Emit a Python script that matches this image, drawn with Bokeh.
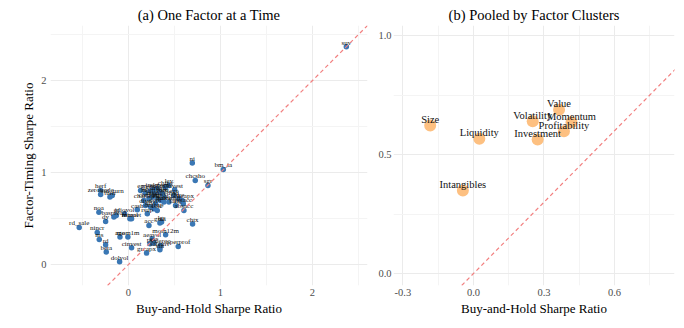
from bokeh.plotting import figure
from bokeh.layouts import row
from bokeh.models import FixedTicker, Slope, ColumnDataSource, PrintfTickFormatter
from bokeh.core.properties import value
from bokeh.embed import file_html
from bokeh.resources import INLINE

FONT = "Liberation Serif"

# ---- Panel (a): one factor at a time ----
a_names = [
    "suv", "ni", "bm_ia", "chcsho", "sgr", "chtx", "rd_sale", "nincr", "ms", "rd",
    "beta", "dolvol", "herf", "zerotrade", "std_turn", "turn", "noa", "dy", "baspread", "ill",
    "idiovol", "retvol", "maxret", "cash", "rsup", "acc", "gma", "lgr", "age", "mom1m",
    "mom12m", "cinvest", "grcapx", "aeavol", "ear", "ps", "saleinv", "salerec", "sin", "operprof",
    "ep", "sp", "cfp", "mom6m", "mom36m", "indmom", "roaq", "roeq", "chinv", "lev",
    "invest", "egr", "hire", "pchcapx", "pctacc", "absacc", "tang", "salecash", "quick", "currat",
    "depr", "mve", "chmom", "chatoia", "orgcap", "roic", "divi", "divo", "securedind", "agr",
]
a_bh = [
    2.37, 0.696, 1.033, 0.728, 0.866, 0.699, -0.533, -0.337, -0.315, -0.246,
    -0.239, -0.094, -0.300, -0.300, -0.174, -0.199, -0.319, -0.246, -0.156, -0.130,
    -0.040, 0.018, 0.036, 0.098, 0.207, 0.225, 0.344, 0.362, -0.090, -0.004,
    0.406, 0.036, 0.199, 0.260, 0.279, 0.236, 0.344, 0.351, 0.344, 0.543,
    0.134, 0.188, 0.243, 0.272, 0.286, 0.315, 0.344, 0.373, 0.406, 0.442,
    0.504, 0.496, 0.551, 0.587, 0.598, 0.605, 0.514, 0.442, 0.388, 0.351,
    0.297, 0.261, 0.225, 0.170, 0.279, 0.315, 0.243, 0.188, 0.388, 0.315,
]
a_ft = [
    2.37, 1.105, 1.036, 0.917, 0.862, 0.442, 0.406, 0.351, 0.275, 0.217,
    0.138, 0.033, 0.808, 0.764, 0.754, 0.736, 0.572, 0.471, 0.518, 0.536,
    0.554, 0.500, 0.500, 0.598, 0.554, 0.428, 0.453, 0.464, 0.301, 0.301,
    0.326, 0.185, 0.127, 0.283, 0.236, 0.228, 0.185, 0.210, 0.163, 0.199,
    0.808, 0.779, 0.801, 0.815, 0.772, 0.826, 0.790, 0.772, 0.844, 0.862,
    0.815, 0.754, 0.717, 0.699, 0.663, 0.591, 0.645, 0.681, 0.681, 0.699,
    0.663, 0.736, 0.717, 0.699, 0.609, 0.591, 0.627, 0.645, 0.736, 0.717,
]
a_xticks = [0, 1, 2]
a_yticks = [0, 1, 2]

# ---- Panel (b): pooled by factor clusters ----
b_names = ["Size", "Liquidity", "Intangibles", "Volatility", "Investment",
           "Value", "Momentum", "Profitability"]
b_bh = [-0.184, 0.025, -0.045, 0.252, 0.273, 0.364, 0.417, 0.385]
b_ft = [0.622, 0.566, 0.349, 0.640, 0.563, 0.688, 0.636, 0.598]
b_xticks = [-0.3, 0.0, 0.3, 0.6]
b_yticks = [0.0, 0.5, 1.0]


def style(p, xt, xm, yt, ym):
    p.xaxis.ticker = FixedTicker(ticks=xt, minor_ticks=xm)
    p.yaxis.ticker = FixedTicker(ticks=yt, minor_ticks=ym)
    p.xgrid.ticker = p.xaxis.ticker
    p.ygrid.ticker = p.yaxis.ticker
    for ax in (p.xaxis, p.yaxis):
        ax.axis_line_color = None
        ax.major_tick_line_color = None
        ax.minor_tick_line_color = None
        ax.major_tick_out = 0
        ax.major_tick_in = 0
        ax.minor_tick_out = 0
        ax.minor_tick_in = 0
        ax.major_label_text_font = FONT
        ax.major_label_text_font_size = "10.5px"
        ax.major_label_text_color = "#4D4D4D"
        ax.axis_label_text_font = FONT
        ax.axis_label_text_font_size = "13px"
        ax.axis_label_text_font_style = "normal"
        ax.axis_label_text_color = "black"
        ax.major_label_standoff = 3
        ax.axis_label_standoff = 2
    for g in (p.xgrid, p.ygrid):
        g.grid_line_color = "#EBEBEB"
        g.grid_line_width = 1
        g.minor_grid_line_color = "#F4F4F4"
        g.minor_grid_line_width = 1
    p.outline_line_color = None
    p.background_fill_color = "white"
    p.border_fill_color = "white"
    p.title.text_font = FONT
    p.title.text_font_size = "14.5px"
    p.title.text_font_style = "normal"
    p.title.text_color = "black"
    p.title.align = "center"
    p.title.standoff = 6


pa = figure(width=375, height=328, x_range=(-0.845, 2.60), y_range=(-0.225, 2.60),
            output_backend="svg", toolbar_location=None,
            title="(a) One Factor at a Time",
            min_border_left=50, min_border_right=8, min_border_top=25, min_border_bottom=43)
style(pa, a_xticks, [-0.5, 0.5, 1.5, 2.5], a_yticks, [0.5, 1.5, 2.5])
pa.yaxis.major_label_standoff = 4
pa.xaxis.axis_label = "Buy-and-Hold Sharpe Ratio"
pa.yaxis.axis_label = "Factor-Timing Sharpe Ratio"
pa.add_layout(Slope(gradient=1, y_intercept=0, line_color="#F28080",
                    line_dash="4 3", line_width=1.2))
src_a = ColumnDataSource(dict(x=a_bh, y=a_ft, name=a_names))
pa.scatter("x", "y", source=src_a, size=5.5, fill_color="#3A77B4", line_color=None)
pa.text("x", "y", text="name", source=src_a, text_font=value(FONT),
        text_font_size="7px", text_align="center", text_baseline="middle",
        y_offset=-4, text_color="#111111")

pb = figure(width=309, height=328, x_range=(-0.34, 0.855), y_range=(-0.05, 1.042),
            output_backend="svg", toolbar_location=None,
            title="(b) Pooled by Factor Clusters",
            min_border_left=17, min_border_right=10, min_border_top=25, min_border_bottom=43)
style(pb, b_xticks, [-0.15, 0.15, 0.45, 0.75], b_yticks, [0.25, 0.75])
pb.yaxis.major_label_standoff = 2
pb.xaxis.formatter = PrintfTickFormatter(format="%.1f")
pb.yaxis.formatter = PrintfTickFormatter(format="%.1f")
pb.xaxis.axis_label = "Buy-and-Hold Sharpe Ratio"
pb.add_layout(Slope(gradient=1, y_intercept=0, line_color="#F28080",
                    line_dash="4 3", line_width=1.2))
src_b = ColumnDataSource(dict(x=b_bh, y=b_ft, name=b_names))
pb.scatter("x", "y", source=src_b, size=12, fill_color="#FDB56B", fill_alpha=0.85,
           line_color=None)
pb.text("x", "y", text="name", source=src_b, text_font=value(FONT),
        text_font_size="10.5px", text_align="center", text_baseline="middle",
        y_offset=-6, text_color="#111111")

layout = row(pa, pb)
open("out.html", "w").write(file_html(layout, INLINE))
